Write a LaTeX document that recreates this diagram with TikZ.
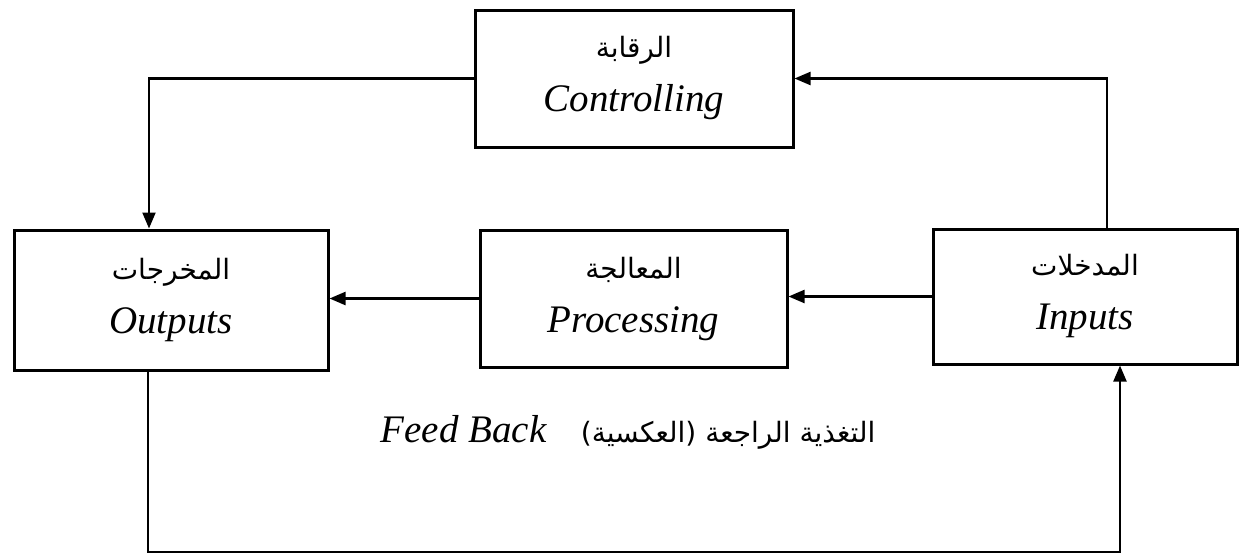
\documentclass[tikz,border=0pt]{standalone}
\usepackage{fontspec}
\setmainfont{Liberation Serif}
\newfontfamily\arabicfont[Script=Arabic]{DejaVu Sans}
\TeXXeTstate=1
\usetikzlibrary{arrows.meta}
\begin{document}
\begin{tikzpicture}[x=0.5pt,y=-0.5pt,
  box/.style={draw,line width=1.5pt,rectangle,align=center,inner sep=0pt,
    font=\fontsize{19.5}{27}\selectfont\itshape},
  conn/.style={line width=1.1pt},
  arr/.style={conn,-{Triangle[length=8pt,width=6.5pt]}},
  ar/.style={}]
\useasboundingbox[fill=white] (0,0) rectangle (1242,554);
\node[box,minimum width=159pt,minimum height=68.5pt] (ctrl) at (634,78.5)
  {{\upshape\arabicfont\fontsize{14}{20}\selectfont\beginR الرقابة\endR}\\Controlling};
\node[box,minimum width=157pt,minimum height=70pt] (out) at (171,300)
  {{\upshape\arabicfont\fontsize{14}{20}\selectfont\beginR المخرجات\endR}\\Outputs};
\node[box,minimum width=153.5pt,minimum height=68.5pt] (proc) at (633.5,298.5)
  {{\upshape\arabicfont\fontsize{14}{20}\selectfont\beginR المعالجة\endR}\\Processing};
\node[box,minimum width=152pt,minimum height=67.5pt] (in) at (1085,296.5)
  {{\upshape\arabicfont\fontsize{14}{20}\selectfont\beginR المدخلات\endR}\\Inputs};
\node[font=\fontsize{19.5}{24}\selectfont] (fb) at (628,432)
  {\textit{Feed Back}\hspace{17pt}{\arabicfont\fontsize{14}{20}\selectfont\beginR التغذية الراجعة (العكسية)\endR}};
\coordinate (fbl) at (148,552);
\draw[arr] ([xshift=11pt]in.north) |- (ctrl.east);
\draw[arr] (ctrl.west) -| ([xshift=-11pt]out.north);
\draw[arr] (in.west) -- (in.west -| proc.east);
\draw[arr] (proc.west) -- (proc.west -| out.east);
\draw[arr] ([xshift=-11.5pt]out.south) |- (fbl) -| ([xshift=17.5pt]in.south);
\end{tikzpicture}
\end{document}
